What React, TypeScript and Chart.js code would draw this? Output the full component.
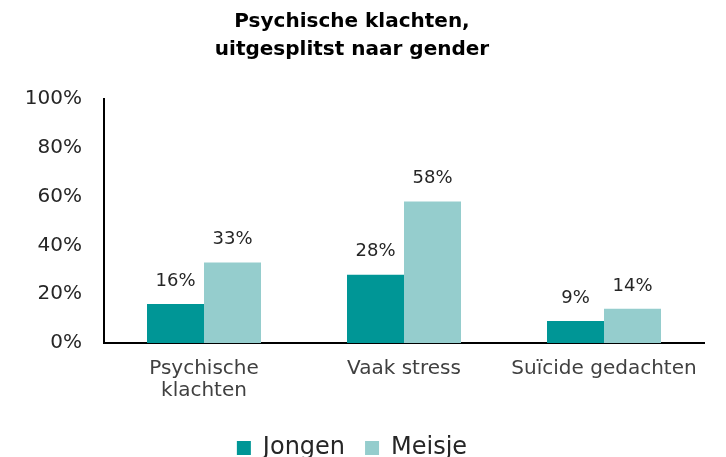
import React, { useEffect, useRef } from "react";
import { Chart, registerables } from "chart.js";

Chart.register(...registerables);

const categories: (string | string[])[] = [["Psychische", "klachten"], "Vaak stress", "Suïcide gedachten"];
const jongen = [16, 28, 9];
const meisje = [33, 58, 14];
const yTicks = [0, 20, 40, 60, 80, 100];
const titleLines = ["Psychische klachten,", "uitgesplitst naar gender"];

const FONT = "'DejaVu Sans', sans-serif";

const labelPlugin = {
  id: "barLabels",
  afterDatasetsDraw(chart: any) {
    const ctx = chart.ctx;
    ctx.save();
    ctx.font = `18px ${FONT}`;
    ctx.fillStyle = "#262626";
    ctx.textAlign = "center";
    ctx.textBaseline = "middle";
    chart.data.datasets.forEach((ds: any, i: number) => {
      const meta = chart.getDatasetMeta(i);
      meta.data.forEach((bar: any, j: number) => {
        ctx.fillText(ds.data[j] + "%", bar.x, bar.y - 23);
      });
    });
    ctx.restore();
  },
};

export default function App() {
  const ref = useRef<HTMLCanvasElement>(null);
  useEffect(() => {
    const chart = new Chart(ref.current!, {
      type: "bar",
      data: {
        labels: categories,
        datasets: [
          { label: "Jongen", data: jongen, backgroundColor: "#009696" },
          { label: "Meisje", data: meisje, backgroundColor: "#95CDCD" },
        ],
      },
      options: {
        animation: false,
        responsive: false,
        maintainAspectRatio: false,
        layout: { padding: { left: 0, right: 22, top: 8, bottom: -13 } },
        datasets: { bar: { categoryPercentage: 0.57, barPercentage: 1 } } as any,
        plugins: {
          title: {
            display: true,
            text: titleLines,
            color: "#000",
            font: { family: FONT, size: 20, weight: "bold", lineHeight: 1.4 },
            padding: { top: 0, bottom: 35 },
          },
          legend: {
            position: "bottom",
            labels: {
              color: "#262626",
              font: { family: FONT, size: 24 },
              boxWidth: 14,
              boxHeight: 14,
              padding: 20,
            },
          },
          tooltip: { enabled: false },
        },
        scales: {
          x: {
            afterFit(axis: any) {
              axis.height += 7;
            },
            grid: { display: false },
            border: { color: "#000", width: 2 },
            ticks: { color: "#404040", font: { family: FONT, size: 20, lineHeight: 1.1 }, padding: 7 },
          },
          y: {
            min: 0,
            max: 100,
            afterBuildTicks(axis: any) {
              axis.ticks = yTicks.map((v) => ({ value: v }));
            },
            afterFit(axis: any) {
              axis.width = 104;
            },
            grid: { display: false },
            border: { color: "#000", width: 2 },
            ticks: {
              color: "#262626",
              font: { family: FONT, size: 20 },
              padding: 14,
              callback: (v: any) => v + "%",
            },
          },
        },
      },
      plugins: [labelPlugin],
    });
    return () => chart.destroy();
  }, []);
  return (
    <div style={{ position: "absolute", left: 0, top: 0, width: 726, height: 457, background: "#fff" }}>
      <canvas ref={ref} width={726} height={457} />
    </div>
  );
}
